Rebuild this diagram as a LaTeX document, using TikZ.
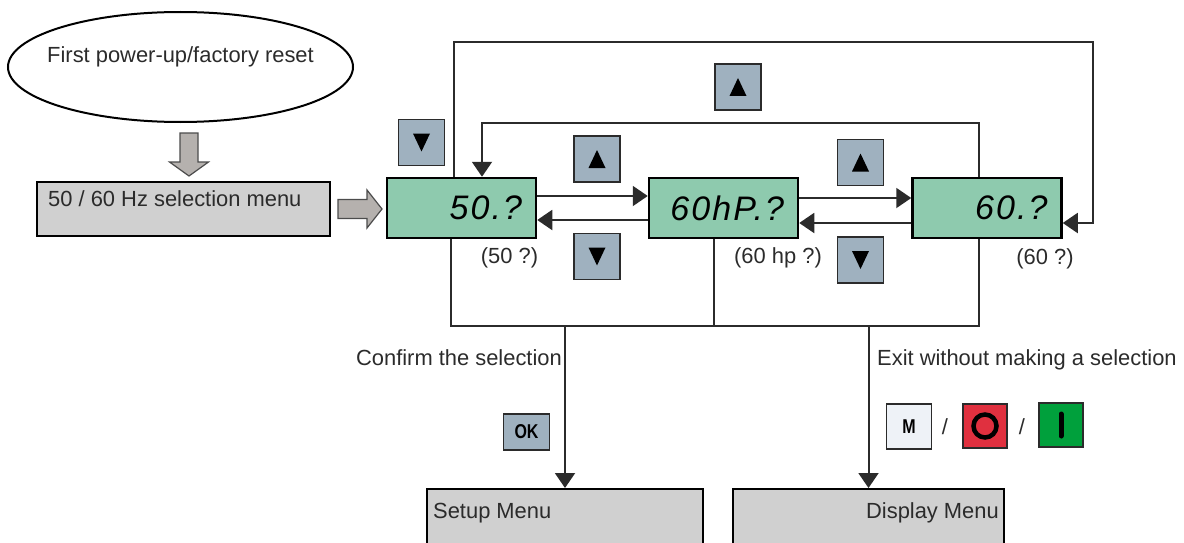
\documentclass[tikz,border=0pt]{standalone}
\usepackage{fontspec}
\setmainfont{Liberation Sans}
\newfontfamily\lcdfont{Liberation Sans}[LetterSpace=6]
\newfontfamily\keyfont{Liberation Sans}[FakeStretch=0.8]
\usepackage{tikz}
\usetikzlibrary{shapes.geometric,arrows.meta,positioning,calc}
\definecolor{lcdG}{HTML}{8ECAAE}
\definecolor{keyB}{HTML}{9FB1BF}
\definecolor{menuG}{HTML}{D0D0D0}
\definecolor{blockG}{HTML}{B5B1AE}
\definecolor{keyM}{HTML}{EEF2F7}
\definecolor{keyR}{HTML}{E0303F}
\definecolor{keyGr}{HTML}{00A03C}
\definecolor{ink}{HTML}{2B2B2B}

\begin{document}
\begin{tikzpicture}[
  x=1pt,y=-1pt,
  font=\fontsize{21.9}{26}\selectfont,
  every node/.style={text=ink,inner sep=0pt},
  wire/.style={line width=2pt,ink},
  conn/.style={wire,-{Triangle[length=15pt,width=20pt]}},
  lcd/.style={draw=black,line width=2.5pt,fill=lcdG,minimum height=60pt,
              text width=121pt,inner xsep=14pt,align=right,text=black,
              font=\lcdfont\itshape\fontsize{34}{34}\selectfont},
  menu/.style={draw=black,line width=2pt,fill=menuG},
  blockarrow/.style={draw=black!70,line width=1.2pt,fill=blockG},
  key/.style={draw=ink,line width=1.5pt,fill=keyB,minimum width=46pt,
              minimum height=46pt,text=black,
              font=\keyfont\bfseries\fontsize{20}{20}\selectfont},
  keyup/.style={key,path picture={\fill[black]
      ($(path picture bounding box.center)+(-8.5pt,-9pt)$)
      -- +(17pt,0pt) -- +(8.5pt,18pt) -- cycle;}},
  keydown/.style={key,path picture={\fill[black]
      ($(path picture bounding box.center)+(-8.5pt,9pt)$)
      -- +(17pt,0pt) -- +(8.5pt,-18pt) -- cycle;}}
]
\useasboundingbox (0,0) rectangle (1184,543);

% Start
\node[draw=black,line width=2pt,ellipse,minimum width=345pt,
      minimum height=110pt] (reset) at (180.5,67) {};
\node[anchor=base] (resettxt) at ([yshift=4pt]reset.center)
  {First power-up/factory reset};
\draw[blockarrow,shift={(189,133)}] (-9,0) -- (9,0) -- (9,29) -- (19.5,29)
  -- (0,43) -- (-19.5,29) -- (-9,29) -- cycle;

\node[menu,minimum width=293pt,minimum height=54pt] (sel) at (183.5,209) {};
\node[anchor=base west] (seltxt) at ([xshift=12pt,yshift=3pt]sel.west)
  {50 / 60 Hz selection menu};
\draw[blockarrow,shift={(338,209)}] (0,-9.5) -- (29,-9.5) -- (29,-19)
  -- (44,0) -- (29,19) -- (29,9.5) -- (0,9.5) -- cycle;

% Displays
\node[lcd] (disp50) at (461.5,208) {50.?};
\node[lcd] (disp60hp) at (723.5,208) {60hP.?};
\node[lcd] (disp60) at (987,208) {60.?};
\node (lbl50) at (509.5,258) {(50 ?)};
\node (lbl60hp) at (778,258) {(60 hp ?)};
\node (lbl60) at (1045,259) {(60 ?)};

% Keys
\node[keydown] (kdownL) at (421.5,142.5) {};
\node[keyup] (kupTop) at (738,87) {};
\node[keyup] (kup1) at (597,159) {};
\node[keydown] (kdown1) at (597,256.5) {};
\node[keyup] (kup2) at (860.5,162.5) {};
\node[keydown] (kdown2) at (860.5,260) {};

% Loops
\coordinate (outerTL) at (454,42);
\coordinate (outerTR) at (1093,42);
\coordinate (innerL) at (482,123);
\draw[conn] ([xshift=-7.5pt]disp50.north) -- (outerTL) -- (outerTR)
  |- ([yshift=-15pt]disp60.east);
\draw[conn] ([xshift=-8pt]disp60.north) |- (innerL)
  -- ([xshift=20.5pt]disp50.north);

% Step arrows
\draw[conn] ([yshift=12pt]disp50.east) -- ([yshift=12pt]disp60hp.west);
\draw[conn] ([yshift=-12pt]disp60hp.west) -- ([yshift=-12pt]disp50.east);
\draw[conn] ([yshift=10pt]disp60hp.east) -- ([yshift=10pt]disp60.west);
\draw[conn] ([yshift=-15pt]disp60.west) -- ([yshift=-15pt]disp60hp.east);

% Exits
\node[menu,minimum width=276pt,minimum height=80pt] (setup) at (565,529) {};
\node[anchor=base west] (setuptxt) at ([xshift=7pt,yshift=11pt]setup.west)
  {Setup Menu};
\node[menu,minimum width=271pt,minimum height=80pt] (dmenu) at (868.5,529) {};
\node[anchor=base east] (dmenutxt) at ([xshift=-6pt,yshift=11pt]dmenu.east)
  {Display Menu};

\coordinate (busL) at (451,326);
\coordinate (busR) at (979,326);
\draw[wire] ([xshift=-10.5pt]disp50.south) -- (busL) -- (busR)
  -- ([xshift=-8pt]disp60.south);
\draw[wire] ([xshift=-9.5pt]disp60hp.south)
  -- ([xshift=-9.5pt]disp60hp.south |- busL);
\draw[conn] (setup.north |- busL) -- (setup.north);
\draw[conn] (dmenu.north |- busL) -- (dmenu.north);

\node[anchor=base east] (confirm) at (562,365) {Confirm the selection};
\node[anchor=base west] (exit) at (877,365) {Exit without making a selection};

\node[key,minimum height=36pt] (kok) at (526.5,432) {OK};
\node[key,fill=keyM,minimum size=45pt] (kM) at (909,426.5) {M};
\node (sl1) at (945,427) {/};
\node[key,fill=keyR,minimum size=44pt,path picture={\draw[black,line width=4.5pt]
  (path picture bounding box.center) circle (11.5pt);}] (kO) at (985,426) {};
\node (sl2) at (1022,427) {/};
\node[key,fill=keyGr,minimum size=44pt,path picture={\draw[black,line width=5pt,
  line cap=round] ([yshift=11pt]path picture bounding box.center)
  -- ([yshift=-11pt]path picture bounding box.center);}] (kI) at (1061,425) {};
\end{tikzpicture}
\end{document}
